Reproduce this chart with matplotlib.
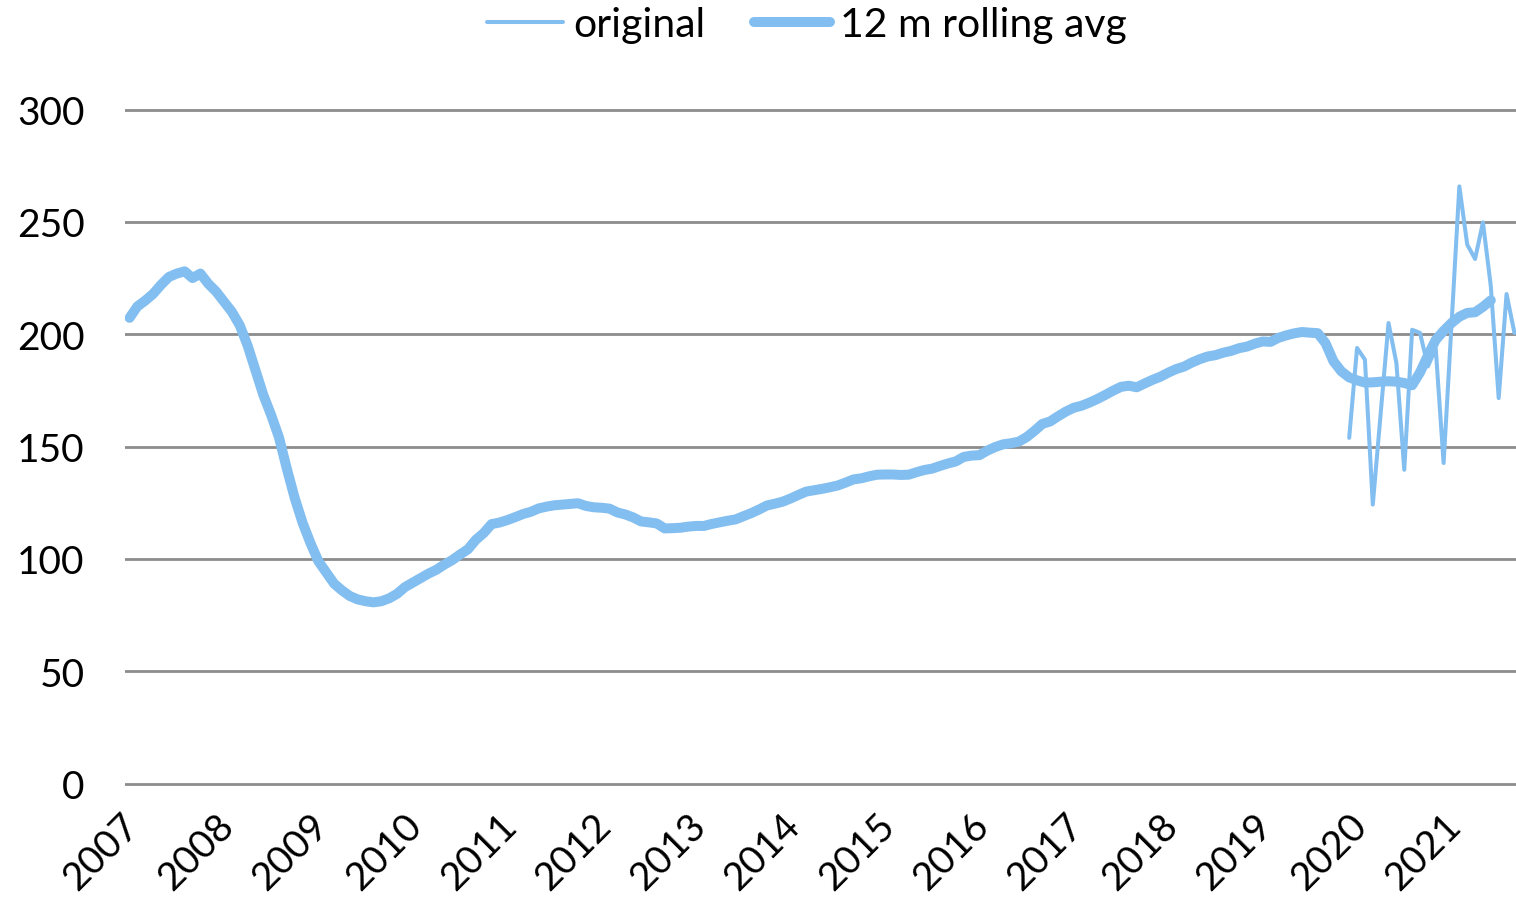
import matplotlib
matplotlib.use("Agg")
import matplotlib.pyplot as plt
import matplotlib.transforms as mtransforms
import numpy as np

##### Data (monthly, index 0 = Jan 2007) #####
years = [str(y) for y in range(2007, 2022)]

rolling_avg = [
    207.3, 212.4, 215.0, 218.0, 222.0, 225.5, 227.0, 228.0, 225.0, 227.0,
    222.5, 219.0, 214.5, 210.0, 204.0, 195.0, 184.0, 173.0, 164.0, 154.0,
    140.0, 127.0, 116.0, 107.0, 99.0, 94.0, 89.0, 86.0, 83.5, 82.0,
    81.2, 80.7, 81.2, 82.5, 84.5, 87.5, 89.5, 91.5, 93.5, 95.2,
    97.5, 99.5, 102.0, 104.3, 108.5, 111.5, 115.5, 116.2, 117.3, 118.6,
    120.0, 121.0, 122.5, 123.3, 123.9, 124.2, 124.5, 124.8, 123.6, 123.0,
    122.8, 122.4, 120.7, 119.8, 118.5, 116.7, 116.3, 115.8, 113.6, 113.7,
    113.9, 114.4, 114.7, 114.7, 115.6, 116.3, 117.0, 117.6, 119.0, 120.4,
    122.0, 123.8, 124.6, 125.5, 126.9, 128.5, 130.0, 130.6, 131.2, 131.9,
    132.7, 134.0, 135.4, 135.9, 136.8, 137.5, 137.6, 137.6, 137.4, 137.5,
    138.6, 139.6, 140.2, 141.4, 142.5, 143.4, 145.4, 146.0, 146.2, 148.2,
    149.8, 151.0, 151.5, 152.2, 154.2, 157.0, 160.1, 161.2, 163.5, 165.6,
    167.3, 168.2, 169.6, 171.2, 173.0, 174.9, 176.6, 177.1, 176.4, 178.1,
    179.7, 181.1, 182.9, 184.5, 185.6, 187.4, 188.9, 190.1, 190.7, 191.8,
    192.6, 193.8, 194.5, 195.8, 196.8, 196.6, 198.4, 199.5, 200.4, 201.0,
    200.7, 200.5, 196.0, 188.0, 183.5, 180.8, 179.5, 178.5, 178.6, 178.9,
    179.1, 178.9, 178.3, 177.3, 183.0, 190.5, 197.5, 201.5, 205.0, 207.8,
    209.5, 209.8, 212.2, 215.1,
]

# original series only shown from Dec 2019 (index 155)
original_start = 155
original = [
    153.9, 193.9, 188.7, 124.2, 164.7, 205.0, 187.2, 139.7, 202.0, 200.6,
    185.7, 193.6, 142.7, 204.0, 265.8, 239.9, 233.5, 249.8, 221.3, 171.6,
    217.9, 200.6,
]

##### Plot #####
plt.rcParams['font.family'] = ['Lato', 'DejaVu Sans']
blue = '#83BEF0'

fig = plt.figure(figsize=(15.16, 9.04), dpi=100)
ax = fig.add_axes([0.0825, 0.127, 0.9175, 0.7557])

x_roll = np.arange(len(rolling_avg))
x_orig = np.arange(original_start, original_start + len(original))

ax.plot(x_orig, original, color=blue, lw=2.9, label='original',
        solid_joinstyle='round', solid_capstyle='round')
ax.plot(x_roll, rolling_avg, color=blue, lw=7.2, label='12 m rolling avg',
        solid_joinstyle='round', solid_capstyle='round')

ax.set_xlim(-0.57, 176.2)
ax.set_ylim(-2, 302)
ax.set_yticks(range(0, 301, 50))
ax.set_xticks(range(0, 12 * len(years), 12))
ax.set_xticklabels(years, rotation=45, ha='right', rotation_mode='anchor')

ax.grid(axis='y', color='#8C8C8C', lw=2.0)
ax.set_axisbelow(True)
for s in ax.spines.values():
    s.set_visible(False)
ax.tick_params(axis='both', length=0, labelsize=28)
ax.tick_params(axis='y', pad=29)
ax.tick_params(axis='x', pad=12, labelsize=28)

# nudge the rotated year labels left/down like the original
shift = mtransforms.ScaledTranslation(-0.09, -0.02, fig.dpi_scale_trans)
for lbl in ax.get_xticklabels():
    lbl.set_transform(lbl.get_transform() + shift)

ax.legend(loc='center', bbox_to_anchor=(807 / 1516, 1 - 26 / 904),
          bbox_transform=fig.transFigure,
          ncol=2, frameon=False, fontsize=29.5, handlelength=1.85,
          handletextpad=0.25, columnspacing=1.2)

fig.savefig('out.png', dpi=100)
